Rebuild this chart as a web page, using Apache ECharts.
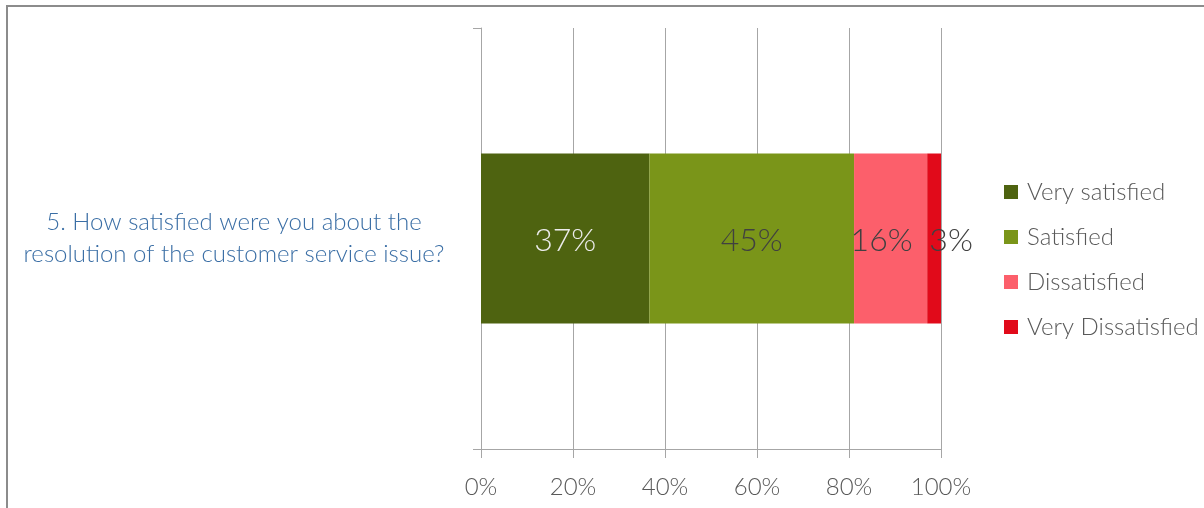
<!DOCTYPE html>
<html>
<head>
<meta charset="utf-8">
<script src="https://cdn.jsdelivr.net/npm/echarts@6/dist/echarts.min.js"></script>
<style>
html,body{margin:0;padding:0;background:#fff;}
#chart{width:1204px;height:508px;}
</style>
</head>
<body>
<div id="chart"></div>
<script>
const categories = ['5. How satisfied were you about the\nresolution of the customer service issue?'];
const seriesNames = ['Very satisfied', 'Satisfied', 'Dissatisfied', 'Very Dissatisfied'];
const verySatisfied = [36.6];
const satisfied = [44.5];
const dissatisfied = [15.9];
const veryDissatisfied = [3.0];
const xTickValues = [0, 20, 40, 60, 80, 100];

const seriesData = [verySatisfied, satisfied, dissatisfied, veryDissatisfied];
const colors = ['#4e6310', '#7a9519', '#fc5f6b', '#e10a1a'];
const labelColors = ['#ececec', '#404040', '#404040', '#404040'];
const labelOffsets = [[0, 2], [0, 2], [-9, 2], [17, 2]];
const FONT = 'Lato, "Open Sans", sans-serif';

const chart = echarts.init(document.getElementById('chart'), null, {renderer: 'canvas'});
chart.setOption({
  animation: false,
  backgroundColor: '#ffffff',
  textStyle: {fontFamily: FONT},
  graphic: [{
    type: 'rect',
    shape: {x: 7, y: 6, width: 1400, height: 700},
    style: {fill: 'none', stroke: '#8c8c8c', lineWidth: 2},
    silent: true
  }],
  grid: {left: 481, right: 263, top: 28, bottom: 59, containLabel: false},
  legend: {
    orient: 'vertical',
    left: 1004,
    top: 177,
    padding: 0,
    icon: 'rect',
    itemWidth: 14,
    itemHeight: 14,
    itemGap: 15,
    data: seriesNames,
    textStyle: {fontFamily: FONT, fontWeight: 300, fontSize: 24, color: '#595959', lineHeight: 30, padding: [0, 0, 0, 4]}
  },
  xAxis: {
    type: 'value',
    min: xTickValues[0],
    max: xTickValues[xTickValues.length - 1],
    interval: xTickValues[1] - xTickValues[0],
    axisLine: {show: true, lineStyle: {color: '#a6a6a6', width: 1}},
    axisTick: {show: true, length: 9, lineStyle: {color: '#a6a6a6'}},
    splitLine: {show: true, lineStyle: {color: '#a6a6a6', width: 1}},
    axisLabel: {
      formatter: '{value}%',
      fontFamily: FONT, fontWeight: 300, fontSize: 24, color: '#595959', margin: 26
    }
  },
  yAxis: {
    type: 'category',
    data: categories,
    axisLine: {show: true, lineStyle: {color: '#a6a6a6', width: 1}},
    axisTick: {show: true, length: 8, lineStyle: {color: '#a6a6a6'}},
    axisLabel: {
      align: 'center',
      margin: 247,
      fontFamily: FONT, fontWeight: 300, fontSize: 24, lineHeight: 32, color: '#3a6ea5'
    }
  },
  series: seriesNames.map((name, i) => ({
    name: name,
    type: 'bar',
    stack: 'total',
    barWidth: 170,
    data: seriesData[i],
    itemStyle: {color: colors[i]},
    label: {
      show: true,
      position: 'inside',
      offset: labelOffsets[i],
      formatter: p => Math.round(p.value) + '%',
      fontFamily: FONT, fontWeight: 300, fontSize: 32, color: labelColors[i]
    }
  }))
});
</script>
</body>
</html>
